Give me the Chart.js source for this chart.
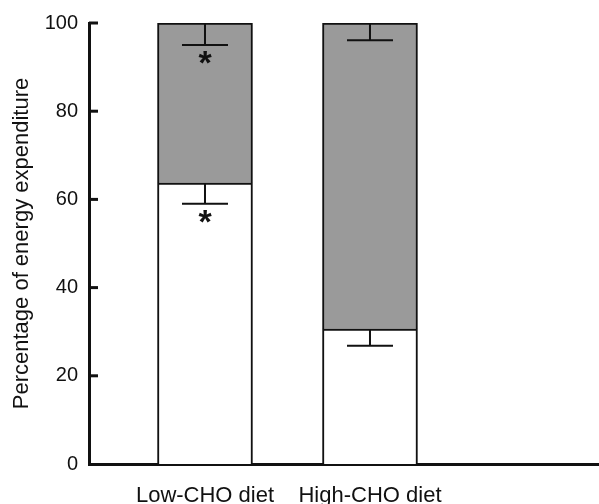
<!DOCTYPE html>
<html>
<head>
<meta charset="utf-8">
<script src="https://cdn.jsdelivr.net/npm/chart.js@4/dist/chart.umd.min.js"></script>
<style>
  html, body { margin: 0; padding: 0; background: #fff; }
  #wrap { width: 599px; height: 504px; }
</style>
</head>
<body>
<div id="wrap"><canvas id="c"></canvas></div>
<script>
// Values
const categories = ["Low-CHO diet", "High-CHO diet"];
const fatPct = [63.7, 30.6];   // white (bottom) segment
const choPct = [36.3, 69.4];   // grey (top) segment
const fatErr = [4.7, 3.8];
const choErr = [5.0, 3.9];
const fatSig = [true, false];
const choSig = [true, false];
const yTicks = [0, 20, 40, 60, 80, 100];

const INK = "#111";
const FONT = "'Liberation Sans', Arial, Helvetica, sans-serif";
Chart.defaults.font.family = FONT;
Chart.defaults.color = "#111";

// inward y ticks, error bars (downward only) and asterisks
const extras = {
  id: "extras",
  afterDatasetsDraw(chart) {
    const ctx = chart.ctx;
    const y = chart.scales.y;
    const left = chart.chartArea.left;
    ctx.save();
    ctx.strokeStyle = INK;
    ctx.lineWidth = 3;
    yTicks.forEach(v => {
      if (v === 0) return;
      const py = y.getPixelForValue(v);
      ctx.beginPath();
      ctx.moveTo(left, py);
      ctx.lineTo(left + 9, py);
      ctx.stroke();
    });

    const segs = [
      { ds: 0, err: fatErr, sig: fatSig, top: i => fatPct[i] },
      { ds: 1, err: choErr, sig: choSig, top: i => fatPct[i] + choPct[i] }
    ];
    ctx.lineWidth = 2;
    segs.forEach(s => {
      chart.getDatasetMeta(s.ds).data.forEach((bar, i) => {
        const t = s.top(i);
        const pTop = y.getPixelForValue(t);
        const pLo = y.getPixelForValue(t - s.err[i]);
        ctx.beginPath();
        ctx.moveTo(bar.x, pTop);
        ctx.lineTo(bar.x, pLo);
        ctx.moveTo(bar.x - 23, pLo);
        ctx.lineTo(bar.x + 23, pLo);
        ctx.stroke();
        if (s.sig[i]) {
          ctx.fillStyle = INK;
          ctx.font = "bold 34px " + FONT;
          ctx.textAlign = "center";
          ctx.textBaseline = "alphabetic";
          ctx.fillText("*", bar.x, pLo + 29);
        }
      });
    });
    ctx.restore();
  }
};

new Chart(document.getElementById("c"), {
  type: "bar",
  data: {
    datasets: [
      {
        label: "Fat",
        data: fatPct.map((v, i) => ({ x: i + 1, y: v })),
        backgroundColor: "#ffffff",
        borderColor: INK,
        borderWidth: 2,
        borderSkipped: "start",
        barThickness: 95,
        stack: "diet"
      },
      {
        label: "CHO",
        data: choPct.map((v, i) => ({ x: i + 1, y: v })),
        backgroundColor: "#9a9a9a",
        borderColor: INK,
        borderWidth: 2,
        borderSkipped: "start",
        barThickness: 95,
        stack: "diet"
      }
    ]
  },
  options: {
    responsive: true,
    maintainAspectRatio: false,
    animation: false,
    layout: { padding: { top: 23, left: 0, right: 0, bottom: 0 } },
    plugins: { legend: { display: false }, tooltip: { enabled: false } },
    scales: {
      x: {
        type: "linear",
        offset: false,
        min: 0.297,
        max: 3.388,
        afterBuildTicks: s => { s.ticks = categories.map((c, i) => ({ value: i + 1 })); },
        afterFit: s => { s.height = 40; },
        ticks: {
          callback: v => categories[v - 1] || "",
          font: { size: 22, lineHeight: 1 },
          padding: 21,
          autoSkip: false,
          maxRotation: 0
        },
        grid: { display: false, drawTicks: false },
        border: { display: true, color: INK, width: 3 }
      },
      y: {
        stacked: true,
        min: 0,
        max: 100,
        afterBuildTicks: s => { s.ticks = yTicks.map(v => ({ value: v })); },
        afterFit: s => { s.width = 89; },
        ticks: { font: { size: 20 }, padding: 11 },
        grid: { display: false, drawTicks: false },
        border: { display: true, color: INK, width: 3 },
        title: {
          display: true,
          text: "Percentage of energy expenditure",
          font: { size: 22 },
          padding: { top: 9, bottom: 0 }
        }
      }
    }
  },
  plugins: [extras]
});
</script>
</body>
</html>
